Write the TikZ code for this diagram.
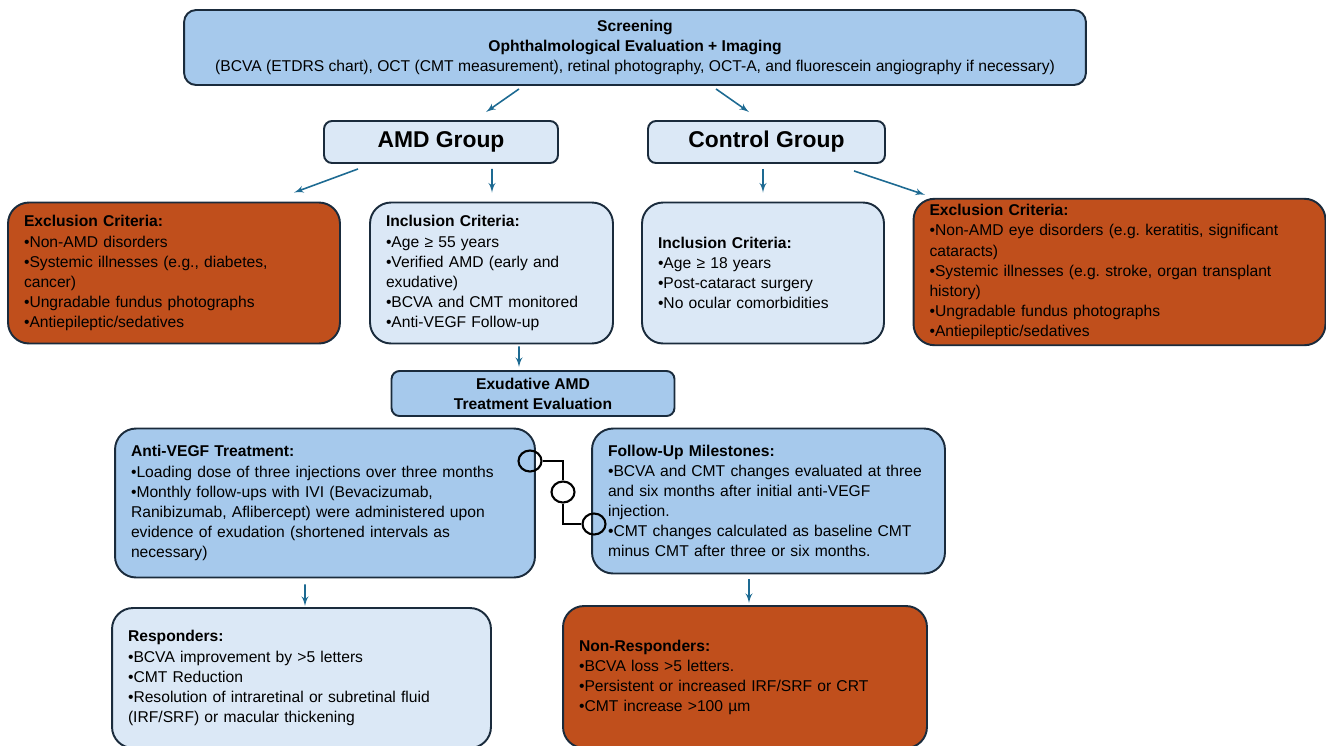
\documentclass[tikz,border=0pt]{standalone}
\usepackage{fontspec}
\setmainfont{Liberation Sans}
\usepackage{tikz}
\usetikzlibrary{shapes,arrows,calc}
\definecolor{midblue}{HTML}{A6C9EC}
\definecolor{lightblue}{HTML}{DBE8F6}
\definecolor{rust}{HTML}{C04F1C}
\definecolor{edge}{HTML}{1A2B3C}
\definecolor{arrowblue}{HTML}{1D6A92}
\frenchspacing

\begin{document}
\begin{tikzpicture}[x=0.02cm, y=-0.02cm, >=latex',
        box/.style    = {draw=edge, line width=1.1pt, rounded corners=0.42cm, align=left, inner xsep=0.32cm, font=\fontsize{8.9}{11.4}\selectfont},
        headbox/.style= {draw=edge, line width=1.1pt, rounded corners=0.16cm, align=center, font=\fontsize{8.9}{11.4}\selectfont\bfseries},
        groupbox/.style={headbox, fill=lightblue, minimum height=0.84cm, font=\fontsize{13}{15}\selectfont\bfseries},
        arr/.style    = {->, draw=arrowblue, line width=0.9pt},
        ring/.style   = {ellipse, draw=black, line width=1.2pt, minimum width=0.46cm, minimum height=0.42cm, inner sep=0pt}]
        \useasboundingbox (0,0) rectangle (1326,745);

        % Screening
        \node[headbox, fill=midblue, rounded corners=0.24cm, minimum width=18.04cm, minimum height=1.5cm] (scr) at (635,47.5)
            {Screening\\Ophthalmological Evaluation + Imaging\\
             \mdseries (BCVA (ETDRS chart), OCT (CMT measurement), retinal photography, OCT-A, and fluorescein angiography if necessary)};

        % Groups
        \node[groupbox, minimum width=4.68cm] (amd) at (441,142)   {AMD Group};
        \node[groupbox, minimum width=4.74cm] (ctl) at (766.5,142) {Control Group};

        % Criteria
        \node[box, fill=rust, minimum width=6.64cm, minimum height=2.82cm, text width=6.0cm] (exl) at (174,273)
            {\textbf{Exclusion Criteria:}\\
             •Non-AMD disorders\\
             •Systemic illnesses (e.g., diabetes,\\ cancer)\\
             •Ungradable fundus photographs\\
             •Antiepileptic/sedatives};
        \node[box, fill=lightblue, minimum width=4.86cm, minimum height=2.82cm, text width=4.22cm] (inl) at (491.5,273)
            {\textbf{Inclusion Criteria:}\\
             •Age ≥ 55 years\\
             •Verified AMD (early and\\ exudative)\\
             •BCVA and CMT monitored\\
             •Anti-VEGF Follow-up};
        \node[box, fill=lightblue, minimum width=4.84cm, minimum height=2.82cm, text width=4.2cm] (inc) at (763,273)
            {\textbf{Inclusion Criteria:}\\
             •Age ≥ 18 years\\
             •Post-cataract surgery\\
             •No ocular comorbidities};
        \node[box, fill=rust, minimum width=8.24cm, minimum height=2.86cm, text width=7.6cm] (exr) at (1119.5,272)
            {\textbf{Exclusion Criteria:}\\
             •Non-AMD eye disorders (e.g. keratitis, significant\\ cataracts)\\
             •Systemic illnesses (e.g. stroke, organ transplant\\ history)\\
             •Ungradable fundus photographs\\
             •Antiepileptic/sedatives};

        % Treatment
        \node[headbox, fill=midblue, minimum width=5.66cm, minimum height=0.9cm] (exu) at (533,393.5)
            {Exudative AMD\\Treatment Evaluation};
        \node[box, fill=midblue, minimum width=8.4cm, minimum height=2.98cm, text width=7.76cm] (vegf) at (325,503)
            {\textbf{Anti-VEGF Treatment:}\\
             •Loading dose of three injections over three months\\
             •Monthly follow-ups with IVI (Bevacizumab,\\ Ranibizumab, Aflibercept) were administered upon\\ evidence of exudation (shortened intervals as\\ necessary)};
        \node[box, fill=midblue, minimum width=7.06cm, minimum height=2.9cm, text width=6.42cm] (fol) at (768.5,501)
            {\textbf{Follow-Up Milestones:}\\
             •BCVA and CMT changes evaluated at three\\ and six months after initial anti-VEGF\\ injection.\\
             •CMT changes calculated as baseline CMT\\ minus CMT after three or six months.};

        % Outcomes
        \node[box, fill=lightblue, minimum width=7.58cm, minimum height=2.8cm, text width=6.94cm] (resp) at (301.5,678)
            {\textbf{Responders:}\\
             •BCVA improvement by >5 letters\\
             •CMT Reduction\\
             •Resolution of intraretinal or subretinal fluid\\ (IRF/SRF) or macular thickening};
        \node[box, fill=rust, minimum width=7.28cm, minimum height=2.84cm, text width=6.64cm] (nonr) at (745,677)
            {\textbf{Non-Responders:}\\
             •BCVA loss >5 letters.\\
             •Persistent or increased IRF/SRF or CRT\\
             •CMT increase >100 µm};

        % Arrows
        \draw[arr] ($(scr.south)+(-116,3)$)   -- ($(amd.north)+(45,-8)$);
        \draw[arr] ($(scr.south)+(81,3)$)     -- ($(ctl.north)+(-17.5,-8)$);
        \draw[arr] ($(amd.south)+(-83,5)$)    -- ($(exl.north)+(120,-9)$);
        \draw[arr] ($(amd.south)+(51,5)$)     -- ($(inl.north)+(0.5,-9)$);
        \draw[arr] ($(ctl.south)+(-3.5,5)$)   -- ($(inc.north)+(0,-9)$);
        \draw[arr] ($(ctl.south)+(87.5,7)$)   -- ($(exr.north)+(-194.5,-3)$);
        \draw[arr] ($(inl.south)+(27.5,2)$)   -- ($(exu.north)+(-14,-3)$);
        \draw[arr] ($(vegf.south)+(-20,6)$)   -- ($(resp.north)+(3.5,-1)$);
        \draw[arr] ($(fol.south)+(-19.5,5)$)  -- ($(nonr.north)+(4,-2)$);

        % Link between treatment and milestones
        \node[ring] (r1) at (530,461) {};
        \node[ring] (r2) at (563,492) {};
        \node[ring] (r3) at (594,524) {};
        \draw[line width=1.2pt] (r1) -| (r2);
        \draw[line width=1.2pt] (r2) |- (r3);
\end{tikzpicture}
\end{document}
